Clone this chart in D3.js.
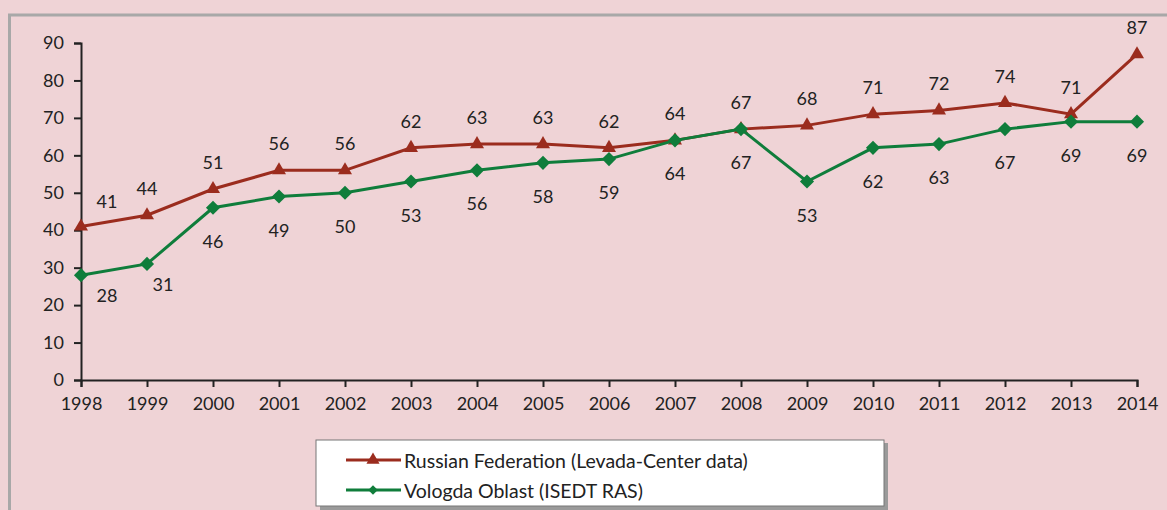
<!DOCTYPE html>
<html><head><meta charset="utf-8">
<script src="https://cdn.jsdelivr.net/npm/d3@7"></script>
<style>body{margin:0;background:#efd3d6;} svg{display:block;}</style>
</head><body>
<svg id="c" width="1167" height="510"></svg>
<script>
const years = [1998,1999,2000,2001,2002,2003,2004,2005,2006,2007,2008,2009,2010,2011,2012,2013,2014];
const russia = [41,44,51,56,56,62,63,63,62,64,67,68,71,72,74,71,87];
const vologda = [28,31,46,49,50,53,56,58,59,64,67,53,62,63,67,69,69];
const yTicks = [0,10,20,30,40,50,60,70,80,90];
const seriesNames = ["Russian Federation (Levada-Center data)", "Vologda Oblast (ISEDT RAS)"];
const colors = ["#9b2c1e", "#0f7d3b"];

const svg = d3.select("#c");
const font = "Lato, 'Open Sans', sans-serif";
svg.append("rect").attr("width",1167).attr("height",510).attr("fill","#efd3d6");
// frame
svg.append("path").attr("d","M9.5,520 L9.5,15 L1180,15").attr("fill","none").attr("stroke","#a8a8a8").attr("stroke-width",3);

const x = d3.scalePoint().domain(years).range([81,1137]);
const y = d3.scaleLinear().domain([0,90]).range([380,43]);

const gy = svg.append("g").attr("transform","translate(81,0)")
  .call(d3.axisLeft(y).tickValues(yTicks).tickSize(7).tickPadding(10));
const gx = svg.append("g").attr("transform","translate(0,380)")
  .call(d3.axisBottom(x).tickSize(7).tickPadding(10));
[gx,gy].forEach(g=>{
  g.select(".domain").attr("stroke","#222").attr("stroke-width",2);
  g.selectAll(".tick line").attr("stroke","#222").attr("stroke-width",2);
  g.selectAll("text").attr("fill","#222").style("font-family",font).style("font-size","18px");
});

const line = d3.line().x((d,i)=>x(years[i])).y(d=>y(d));
const tri = d3.symbol().type(d3.symbolTriangle).size(85);
const sq = d3.symbol().type(d3.symbolSquare).size(100);

[[russia,0,tri,0],[vologda,1,sq,45]].forEach(([data,k,sym,rot])=>{
  svg.append("path").datum(data).attr("d",line).attr("fill","none")
    .attr("stroke",colors[k]).attr("stroke-width",3);
  svg.selectAll(null).data(data).enter().append("path")
    .attr("d",sym).attr("fill",colors[k])
    .attr("transform",(d,i)=>`translate(${x(years[i])},${y(d)}) rotate(${rot})`);
});
// labels
svg.selectAll(null).data(russia).enter().append("text")
  .attr("x",(d,i)=>x(years[i])+(i===0?26:0))
  .attr("y",(d,i)=>y(d)-(i===0?25:27))
  .attr("text-anchor","middle").attr("dominant-baseline","central")
  .attr("fill","#222").style("font-family",font).style("font-size","18px")
  .text(d=>d);
svg.selectAll(null).data(vologda).enter().append("text")
  .attr("x",(d,i)=>x(years[i])+(i===0?26:(i===1?16:0)))
  .attr("y",(d,i)=>y(d)+(i<2?20:33))
  .attr("text-anchor","middle").attr("dominant-baseline","central")
  .attr("fill","#222").style("font-family",font).style("font-size","18px")
  .text(d=>d);

// legend
const lg = svg.append("g");
lg.append("rect").attr("x",320).attr("y",443).attr("width",568).attr("height",68).attr("fill","#9a9a9a");
lg.append("rect").attr("x",316).attr("y",440).attr("width",568).attr("height",66).attr("fill","#fff").attr("stroke","#777").attr("stroke-width",1);
seriesNames.forEach((n,k)=>{
  const yy = 460 + k*30;
  lg.append("line").attr("x1",346).attr("x2",401).attr("y1",yy).attr("y2",yy).attr("stroke",colors[k]).attr("stroke-width",3);
  lg.append("path").attr("d",(k===0?tri.size(75):sq.size(45))()).attr("fill",colors[k])
    .attr("transform",`translate(373,${yy}) rotate(${k===0?0:45})`);
  lg.append("text").attr("x",404).attr("y",yy).attr("dominant-baseline","central")
    .attr("fill","#222").style("font-family",font).style("font-size","19.5px").text(n);
});
</script>
</body></html>
